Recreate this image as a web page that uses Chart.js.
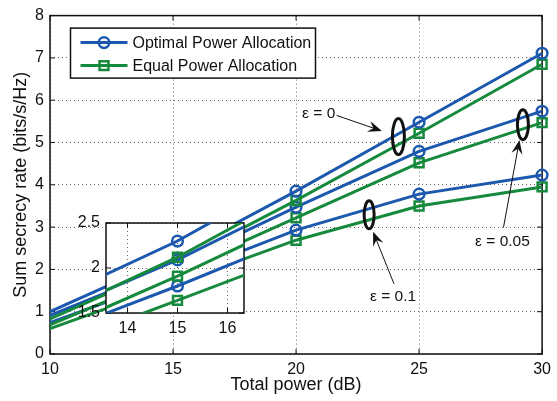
<!DOCTYPE html>
<html>
<head>
<meta charset="utf-8">
<script src="https://cdn.jsdelivr.net/npm/chart.js@4.4.0/dist/chart.umd.min.js"></script>
<style>
  body { margin: 0; background: #fff; }
  #wrap { position: relative; width: 557px; height: 401px; }
  #wrap canvas { position: absolute; left: 0; top: 0; }
</style>
</head>
<body>
<div id="wrap">
  <canvas id="mainChart" width="557" height="401"></canvas>
  <canvas id="zoomChart" width="557" height="401"></canvas>
</div>
<script>
// data
const power = [10, 15, 20, 25, 30];
const optEps0   = [1.00, 2.30, 3.85, 5.48, 7.11];
const eqEps0    = [0.83, 2.12, 3.63, 5.22, 6.85];
const optEps005 = [0.91, 2.09, 3.47, 4.79, 5.74];
const eqEps005  = [0.69, 1.91, 3.22, 4.52, 5.47];
const optEps01  = [0.74, 1.80, 2.93, 3.78, 4.23];
const eqEps01   = [0.60, 1.64, 2.69, 3.50, 3.95];

const xTicks = [10, 15, 20, 25, 30];
const yTicks = [0, 1, 2, 3, 4, 5, 6, 7, 8];
const zoomXTicks = [14, 15, 16];
const zoomYTicks = [1.5, 2, 2.5];

const BLUE = '#1c58ad';
const GREEN = '#168a3c';
const FONT = '"Liberation Sans", Arial, Helvetica, sans-serif';
const GRID = 'rgba(0,0,0,0.6)';

function series(label, values, color, style) {
    const r = style === 'circle' ? 5.3 : 6.3;
    return {
        label: label,
        data: power.map((p, i) => ({x: p, y: values[i]})),
        borderColor: color,
        backgroundColor: 'rgba(0,0,0,0)',
        borderWidth: 3,
        tension: 0,
        pointStyle: style,
        pointRadius: (c) => c.dataIndex === 0 ? 0 : r,
        pointBorderWidth: 2.5,
        pointBorderColor: color,
        pointBackgroundColor: 'rgba(0,0,0,0)'
    };
}

function makeSets(clip) {
    const sets = [
        series('Optimal Power Allocation', optEps0, BLUE, 'circle'),
        series('Equal Power Allocation', eqEps0, GREEN, 'rect'),
        series('opt 0.05', optEps005, BLUE, 'circle'),
        series('eq 0.05', eqEps005, GREEN, 'rect'),
        series('opt 0.1', optEps01, BLUE, 'circle'),
        series('eq 0.1', eqEps01, GREEN, 'rect')
    ];
    sets.forEach(s => s.clip = clip);
    return sets;
}

// box round the plot and small inward ticks (matlab look)
const frame = {
    id: 'frame',
    beforeDatasetsDraw(chart) {
        const {ctx, chartArea: a, scales} = chart;
        ctx.save();
        ctx.strokeStyle = '#111';
        ctx.lineWidth = 1.5;
        ctx.strokeRect(a.left, a.top, a.right - a.left, a.bottom - a.top);
        ctx.lineWidth = 1;
        ctx.beginPath();
        scales.x.ticks.forEach(t => {
            const x = scales.x.getPixelForValue(t.value);
            ctx.moveTo(x, a.bottom); ctx.lineTo(x, a.bottom - 5);
            ctx.moveTo(x, a.top); ctx.lineTo(x, a.top + 5);
        });
        scales.y.ticks.forEach(t => {
            const y = scales.y.getPixelForValue(t.value);
            ctx.moveTo(a.left, y); ctx.lineTo(a.left + 5, y);
            ctx.moveTo(a.right, y); ctx.lineTo(a.right - 5, y);
        });
        ctx.stroke();
        ctx.restore();
    }
};

// epsilon labels, ellipses and arrows
const notes = [
    {text: 'ε = 0', tx: 20.92, ty: 5.69, from: [21.65, 5.64], to: [23.49, 5.27], ex: 24.16, ey: 5.14, rx: 6, ry: 18},
    {text: 'ε = 0.05', tx: 28.39, ty: 2.66, from: [28.43, 2.99], to: [29.08, 5.06], ex: 29.22, ey: 5.42, rx: 5.5, ry: 15},
    {text: 'ε = 0.1', tx: 23.94, ty: 1.35, from: [23.98, 1.66], to: [23.13, 2.89], ex: 22.97, ey: 3.29, rx: 5, ry: 14}
];

const extras = {
    id: 'extras',
    afterDraw(chart) {
        const {ctx, chartArea: a, scales} = chart;
        const X = v => scales.x.getPixelForValue(v);
        const Y = v => scales.y.getPixelForValue(v);
        ctx.save();
        notes.forEach(n => {
            // ellipse
            ctx.strokeStyle = '#111';
            ctx.lineWidth = 3;
            ctx.beginPath();
            ctx.ellipse(X(n.ex), Y(n.ey), n.rx, n.ry, 0, 0, Math.PI * 2);
            ctx.stroke();
            // arrow
            const x1 = X(n.from[0]), y1 = Y(n.from[1]);
            const x2 = X(n.to[0]), y2 = Y(n.to[1]);
            const ang = Math.atan2(y2 - y1, x2 - x1);
            ctx.lineWidth = 1;
            ctx.beginPath();
            ctx.moveTo(x1, y1);
            ctx.lineTo(x2 - 8 * Math.cos(ang), y2 - 8 * Math.sin(ang));
            ctx.stroke();
            ctx.fillStyle = '#111';
            ctx.beginPath();
            ctx.moveTo(x2, y2);
            ctx.lineTo(x2 - 14 * Math.cos(ang) + 5.5 * Math.sin(ang), y2 - 14 * Math.sin(ang) - 5.5 * Math.cos(ang));
            ctx.lineTo(x2 - 9 * Math.cos(ang), y2 - 9 * Math.sin(ang));
            ctx.lineTo(x2 - 14 * Math.cos(ang) - 5.5 * Math.sin(ang), y2 - 14 * Math.sin(ang) + 5.5 * Math.cos(ang));
            ctx.closePath();
            ctx.fill();
            // text
            ctx.font = '15.5px ' + FONT;
            ctx.textAlign = 'center';
            ctx.textBaseline = 'middle';
            ctx.fillText(n.text, X(n.tx), Y(n.ty));
        });

        // legend box
        const lx = a.left + 20.5, ly = a.top + 12.5, lw = 245, lh = 50;
        ctx.fillStyle = '#fff';
        ctx.fillRect(lx, ly, lw, lh);
        ctx.strokeStyle = '#111';
        ctx.lineWidth = 1.5;
        ctx.strokeRect(lx, ly, lw, lh);
        const items = chart.data.datasets.slice(0, 2);
        items.forEach((d, i) => {
            const yy = ly + 14.5 + i * 23;
            ctx.strokeStyle = d.borderColor;
            ctx.lineWidth = 3;
            ctx.beginPath();
            ctx.moveTo(lx + 10, yy); ctx.lineTo(lx + 57, yy);
            ctx.stroke();
            ctx.lineWidth = 2.5;
            ctx.fillStyle = 'rgba(0,0,0,0)';
            Chart.helpers.drawPoint(ctx, {pointStyle: d.pointStyle, radius: d.pointStyle === 'circle' ? 5.3 : 6.3, rotation: 0, borderWidth: 2.5}, lx + 33.5, yy);
            ctx.fillStyle = '#111';
            ctx.font = '16px ' + FONT;
            ctx.textAlign = 'left';
            ctx.textBaseline = 'middle';
            ctx.fillText(d.label, lx + 62, yy + 1);
        });
        ctx.restore();
    }
};

const whiteArea = {
    id: 'whiteArea',
    beforeDraw(chart) {
        const {ctx, chartArea: a} = chart;
        ctx.save();
        ctx.fillStyle = '#fff';
        ctx.fillRect(a.left, a.top, a.right - a.left, a.bottom - a.top);
        ctx.restore();
    }
};

function axis(min, max, ticks, extra) {
    const o = {
        type: 'linear',
        min: min,
        max: max,
        afterBuildTicks(s) { s.ticks = ticks.map(v => ({value: v})); },
        ticks: {color: '#111', font: {size: 16, family: FONT}, padding: 6, maxRotation: 0, autoSkip: false,
                callback: v => String(v)},
        grid: {color: GRID, lineWidth: 1, drawTicks: false},
        border: {display: false, dash: [1, 3]}
    };
    return Object.assign(o, extra);
}

// main chart
const mainChart = new Chart(document.getElementById('mainChart'), {
    type: 'line',
    data: {datasets: makeSets(false)},
    options: {
        responsive: false,
        animation: false,
        layout: {padding: {left: 10, top: 11, right: 9, bottom: 0}},
        plugins: {legend: {display: false}, tooltip: {enabled: false}},
        scales: {
            x: axis(10, 30, xTicks, {
                afterFit(s) { s.height = 47; },
                title: {display: true, text: 'Total power (dB)', color: '#111', font: {size: 18, family: FONT}, padding: {top: 0, bottom: 5}}
            }),
            y: axis(0, 8, yTicks, {
                afterFit(s) { s.width = 40; },
                title: {display: true, text: 'Sum secrecy rate (bits/s/Hz)', color: '#111', font: {size: 18, family: FONT}, padding: {top: 0, bottom: 0}}
            })
        }
    },
    plugins: [frame, extras]
});

// zoomed inset round x = 15
const zoomChart = new Chart(document.getElementById('zoomChart'), {
    type: 'line',
    data: {datasets: makeSets(0)},
    options: {
        responsive: false,
        animation: false,
        layout: {padding: {left: 76, top: 223, right: 313, bottom: 68}},
        plugins: {legend: {display: false}, tooltip: {enabled: false}},
        scales: {
            x: axis(13.57, 16.33, zoomXTicks, {afterFit(s) { s.height = 20; }}),
            y: axis(1.5, 2.5, zoomYTicks, {afterFit(s) { s.width = 30; }})
        }
    },
    plugins: [whiteArea, frame]
});
</script>
</body>
</html>
